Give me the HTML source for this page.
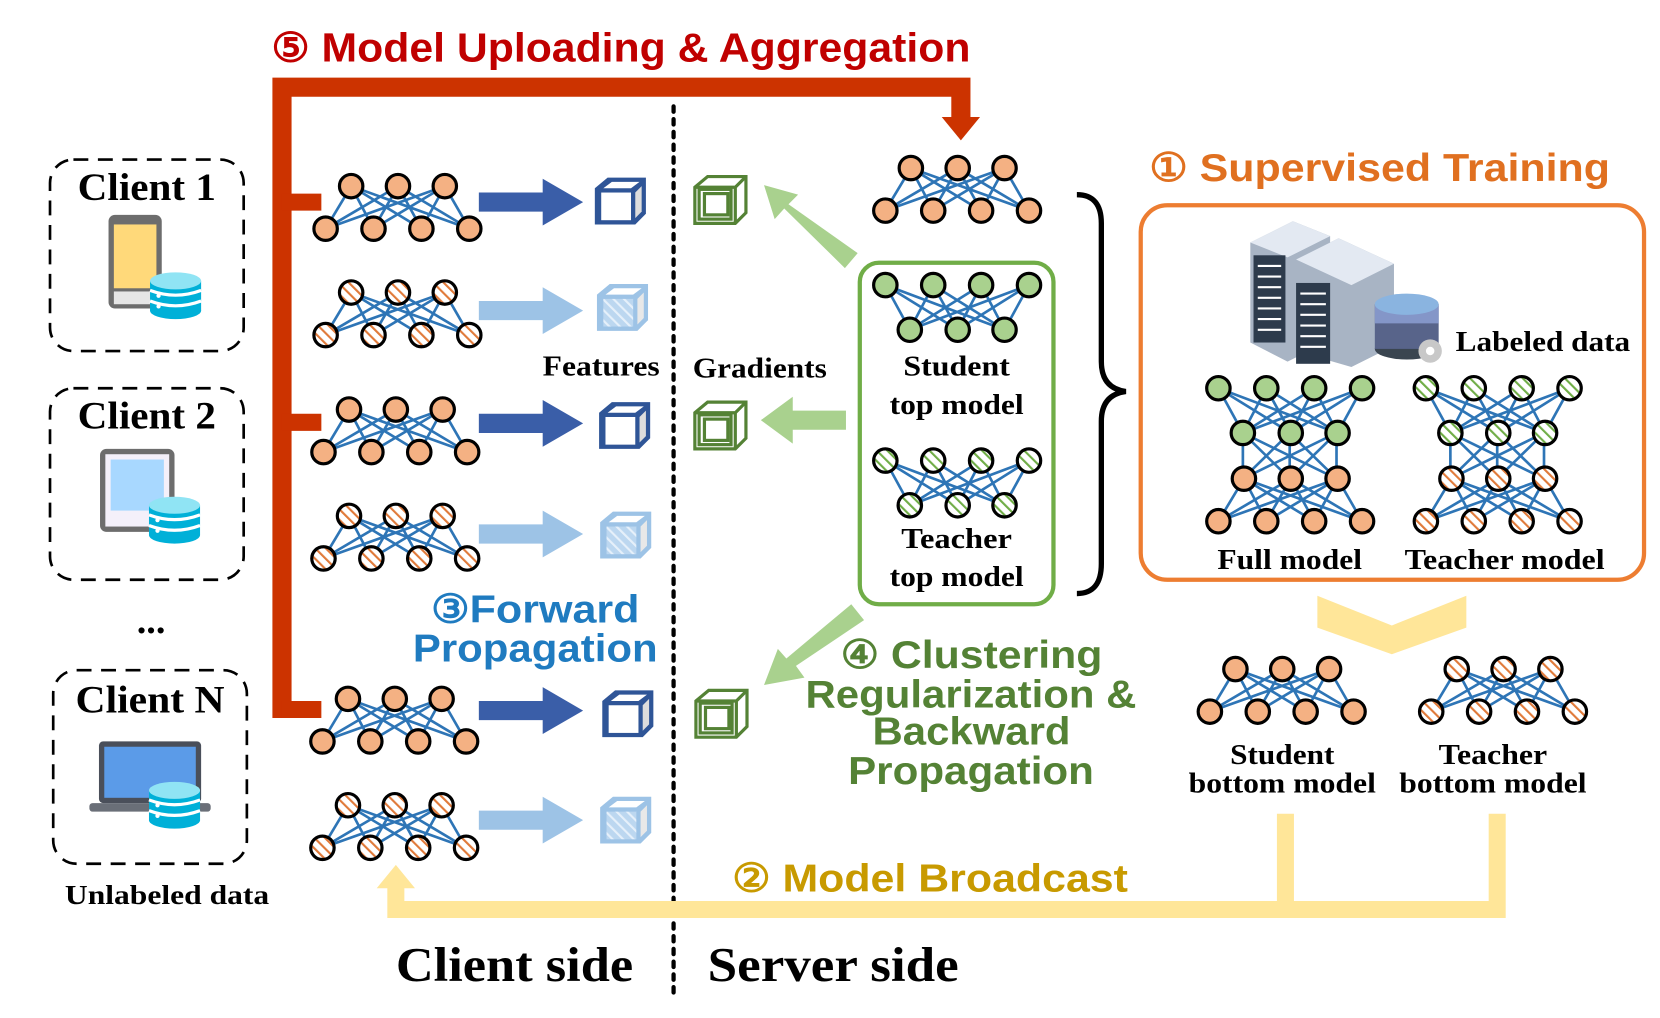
<!DOCTYPE html>
<html><head><meta charset="utf-8"><style>
html,body{margin:0;padding:0;background:#fff;width:1660px;height:1018px;overflow:hidden}
svg{display:block}
.sf{font-family:"Liberation Serif",serif;font-weight:bold;fill:#000}
.ss{font-family:"Liberation Sans",sans-serif;font-weight:bold}
</style></head><body>
<svg width="1660" height="1018" viewBox="0 0 1560 957" preserveAspectRatio="none" xmlns="http://www.w3.org/2000/svg">
<defs>
<pattern id="hO" width="7" height="7" patternUnits="userSpaceOnUse" patternTransform="rotate(-45)"><rect width="7" height="7" fill="#fff"/><rect width="2" height="7" fill="#e07a3a"/></pattern>
<pattern id="hG" width="7" height="7" patternUnits="userSpaceOnUse" patternTransform="rotate(-45)"><rect width="7" height="7" fill="#fff"/><rect width="2" height="7" fill="#70ad47"/></pattern>
<pattern id="hB" width="7" height="7" patternUnits="userSpaceOnUse" patternTransform="rotate(-45)"><rect width="7" height="7" fill="#bcd7f0"/><rect width="2" height="7" fill="#e6f0fa"/></pattern>
<g id="A" stroke="#2e75b6" stroke-width="2.5">
<path d="M24 0L0 40M24 0L45 40M24 0L90 40M24 0L135 40M68 0L0 40M68 0L45 40M68 0L90 40M68 0L135 40M112 0L0 40M112 0L45 40M112 0L90 40M112 0L135 40" fill="none"/>
<g stroke="#000" stroke-width="3"><circle cx="24" cy="0" r="11"/><circle cx="68" cy="0" r="11"/><circle cx="112" cy="0" r="11"/><circle cx="0" cy="40" r="11"/><circle cx="45" cy="40" r="11"/><circle cx="90" cy="40" r="11"/><circle cx="135" cy="40" r="11"/></g></g>
<g id="B" stroke="#2e75b6" stroke-width="2.5">
<path d="M0 0L23 42M0 0L68 42M0 0L112 42M45 0L23 42M45 0L68 42M45 0L112 42M90 0L23 42M90 0L68 42M90 0L112 42M135 0L23 42M135 0L68 42M135 0L112 42" fill="none"/>
<g stroke="#000" stroke-width="3"><circle cx="0" cy="0" r="11"/><circle cx="45" cy="0" r="11"/><circle cx="90" cy="0" r="11"/><circle cx="135" cy="0" r="11"/><circle cx="23" cy="42" r="11"/><circle cx="68" cy="42" r="11"/><circle cx="112" cy="42" r="11"/></g></g>
<path id="M" d="M0 0L0 43M0 0L44 43M0 0L88 43M44 0L0 43M44 0L44 43M44 0L88 43M88 0L0 43M88 0L44 43M88 0L88 43" stroke="#2e75b6" stroke-width="2.5" fill="none"/>
<g id="cubeD"><path d="M4 14L16 4H52V38L42 48H4Z" fill="#2f5597"/><rect x="10" y="18" width="28" height="26" fill="#fff"/><path d="M12 14L20 8H46L38 14Z" fill="#fff"/><path d="M42 18L48 12V36L42 42Z" fill="#ddd"/></g>
<g id="cubeL"><path d="M4 14L16 4H52V38L42 48H4Z" fill="#9dc3e6"/><rect x="10" y="18" width="28" height="26" fill="url(#hB)"/><path d="M12 14L20 8H46L38 14Z" fill="#fff"/><path d="M42 18L48 12V36L42 42Z" fill="#e8e8e8"/></g>
<g id="cubeG" fill="none" stroke="#548235" stroke-width="3"><path d="M4 14L16 4H52V38L42 48H4Z" fill="#fff"/><rect x="8" y="16" width="30" height="28"/><rect x="13" y="20" width="22" height="20"/><path d="M4 14H42V48M42 14L52 4"/></g>
<g id="db"><ellipse cx="0" cy="36" rx="24" ry="8" fill="#00b0d8"/><rect x="-24" y="8" width="48" height="28" fill="#00b0d8"/><path d="M-24 17Q0 26 24 17M-24 27Q0 36 24 27" stroke="#fff" stroke-width="3" fill="none"/><ellipse cx="0" cy="8" rx="24" ry="8" fill="#90e4f4"/><circle cx="-16" cy="22" r="2" fill="#fff"/><circle cx="-16" cy="32" r="2" fill="#fff"/></g>
</defs>

<text x="255" y="58" class="ss" font-size="38" fill="#c00000" textLength="657" lengthAdjust="spacingAndGlyphs">⑤ Model Uploading &amp; Aggregation</text>
<path d="M265 675V82H903V112" stroke="#cc3300" stroke-width="18" fill="none"/>
<path d="M885 110H921L903 132Z" fill="#cc3300"/>
<path d="M265 190H302M265 397H302M265 667H302" stroke="#cc3300" stroke-width="16"/>

<g fill="none" stroke="#000" stroke-width="2.5" stroke-dasharray="14,9">
<rect x="47" y="150" width="182" height="180" rx="22"/>
<rect x="47" y="365" width="182" height="180" rx="22"/>
<rect x="50" y="630" width="182" height="182" rx="22"/>
</g>
<text x="138" y="188" class="sf" font-size="37" text-anchor="middle" textLength="130" lengthAdjust="spacingAndGlyphs">Client 1</text>
<text x="138" y="403" class="sf" font-size="37" text-anchor="middle" textLength="130" lengthAdjust="spacingAndGlyphs">Client 2</text>
<text x="141" y="670" class="sf" font-size="37" text-anchor="middle" textLength="140" lengthAdjust="spacingAndGlyphs">Client N</text>
<text x="142" y="595" class="sf" font-size="36" text-anchor="middle">...</text>
<text x="157" y="850" class="sf" font-size="26" text-anchor="middle" textLength="192" lengthAdjust="spacingAndGlyphs">Unlabeled data</text>
<rect x="102" y="202" width="50" height="88" rx="6" fill="#6d6d6d"/><rect x="107" y="211" width="40" height="60" fill="#ffd97a"/><rect x="107" y="274" width="40" height="12" fill="#e6e6e6"/>
<use href="#db" x="165" y="256"/>
<rect x="94" y="422" width="70" height="78" rx="6" fill="#6d6d6d"/><rect x="99" y="427" width="60" height="68" fill="#f4f0fa"/><rect x="104" y="432" width="50" height="48" fill="#a8d8ff"/>
<use href="#db" x="164" y="467"/>
<rect x="93" y="697" width="96" height="58" rx="4" fill="#4a4f5a"/><rect x="98" y="702" width="86" height="48" fill="#5b9be8"/><rect x="84" y="755" width="114" height="8" rx="3" fill="#6a6f78"/>
<use href="#db" x="164" y="735"/>

<use href="#A" x="306" y="175" fill="#f4b183"/>
<use href="#A" x="306" y="275" fill="url(#hO)"/>
<use href="#A" x="304" y="385" fill="#f4b183"/>
<use href="#A" x="304" y="485" fill="url(#hO)"/>
<use href="#A" x="303" y="657" fill="#f4b183"/>
<use href="#A" x="303" y="757" fill="url(#hO)"/>

<g fill="#3a5ea8"><path d="M450 181H510V168L548 190L510 212V199H450Z"/><path d="M450 389H510V376L548 398L510 420V407H450Z"/><path d="M450 659H510V646L548 668L510 690V677H450Z"/></g>
<g fill="#9dc3e6"><path d="M450 283H510V270L548 292L510 314V301H450Z"/><path d="M450 493H510V480L548 502L510 524V511H450Z"/><path d="M450 762H510V749L548 771L510 793V780H450Z"/></g>
<use href="#cubeD" x="555" y="163"/><use href="#cubeL" x="557" y="263"/>
<use href="#cubeD" x="559" y="374"/><use href="#cubeL" x="560" y="477"/>
<use href="#cubeD" x="562" y="645"/><use href="#cubeL" x="560" y="745"/>
<text x="565" y="353" class="sf" font-size="27" text-anchor="middle" textLength="110" lengthAdjust="spacingAndGlyphs">Features</text>
<text x="714" y="355" class="sf" font-size="27" text-anchor="middle" textLength="126" lengthAdjust="spacingAndGlyphs">Gradients</text>

<line x1="633" y1="100" x2="633" y2="935" stroke="#000" stroke-width="4" stroke-dasharray="5,7" stroke-linecap="round"/>

<use href="#cubeG" x="649" y="162"/><use href="#cubeG" x="649" y="374"/><use href="#cubeG" x="650" y="645"/>
<g fill="#a9d18e">
<path d="M806 238L794 252L737 196L728 206L718 174L750 183L741 192Z"/>
<path d="M795 386V404H745V417L715 395L745 373V386Z"/>
<path d="M800 568L812 583L748 626L756 637L718 644L731 610L739 619Z"/>
</g>

<use href="#A" x="832" y="158" fill="#f4b183"/>
<rect x="808" y="247" width="182" height="321" rx="18" fill="none" stroke="#70ad47" stroke-width="4"/>
<use href="#B" x="832" y="268" fill="#a9d18e"/>
<text x="899" y="353" class="sf" font-size="27" text-anchor="middle" textLength="100" lengthAdjust="spacingAndGlyphs">Student</text>
<text x="899" y="389" class="sf" font-size="27" text-anchor="middle" textLength="126" lengthAdjust="spacingAndGlyphs">top model</text>
<use href="#B" x="832" y="433" fill="url(#hG)"/>
<text x="899" y="515" class="sf" font-size="27" text-anchor="middle" textLength="104" lengthAdjust="spacingAndGlyphs">Teacher</text>
<text x="899" y="551" class="sf" font-size="27" text-anchor="middle" textLength="126" lengthAdjust="spacingAndGlyphs">top model</text>
<path d="M1012 183Q1035 183 1035 210V340Q1035 365 1058 368Q1035 371 1035 396V530Q1035 558 1012 558" fill="none" stroke="#000" stroke-width="5"/>

<text x="1080" y="170" class="ss" font-size="37" fill="#e07020" textLength="433" lengthAdjust="spacingAndGlyphs">① Supervised Training</text>
<rect x="1072" y="193" width="473" height="352" rx="25" fill="none" stroke="#ed7d31" stroke-width="4"/>
<path d="M1175 228L1215 208L1250 222L1250 320L1210 340L1175 322Z" fill="#a8b4c4"/>
<path d="M1175 228L1215 208L1250 222L1210 242Z" fill="#e3e9f2"/>
<rect x="1178" y="240" width="30" height="82" fill="#2d3b4c"/>
<path d="M1218 244L1258 224L1310 248L1310 325L1270 345L1218 330Z" fill="#a8b4c4"/>
<path d="M1218 244L1258 224L1310 248L1270 268Z" fill="#e3e9f2"/>
<rect x="1218" y="266" width="32" height="76" fill="#2d3b4c"/>
<g stroke="#fff" stroke-width="2"><path d="M1182 250H1204M1182 260H1204M1182 270H1204M1182 280H1204M1182 290H1204M1182 300H1204M1182 310H1204M1222 276H1246M1222 286H1246M1222 296H1246M1222 306H1246M1222 316H1246M1222 326H1246"/></g>
<ellipse cx="1322" cy="328" rx="30" ry="10" fill="#3a4550"/><rect x="1292" y="286" width="60" height="42" fill="#58648a"/><rect x="1292" y="286" width="60" height="18" fill="#8496c8"/><ellipse cx="1322" cy="286" rx="30" ry="10" fill="#8ab4e0"/>
<circle cx="1344" cy="330" r="11" fill="#c8c8c8"/><circle cx="1344" cy="330" r="4" fill="#fff"/>
<text x="1368" y="330" class="sf" font-size="27" textLength="164" lengthAdjust="spacingAndGlyphs">Labeled data</text>
<use href="#M" x="1168" y="407"/>
<use href="#B" x="1145" y="365" fill="#a9d18e"/>
<use href="#A" x="1145" y="450" fill="#f4b183"/>
<use href="#M" x="1363" y="407"/>
<use href="#B" x="1340" y="365" fill="url(#hG)"/>
<use href="#A" x="1340" y="450" fill="url(#hO)"/>
<text x="1212" y="535" class="sf" font-size="27" text-anchor="middle" textLength="136" lengthAdjust="spacingAndGlyphs">Full model</text>
<text x="1414" y="535" class="sf" font-size="27" text-anchor="middle" textLength="188" lengthAdjust="spacingAndGlyphs">Teacher model</text>
<path d="M1238 560L1308 588L1378 560V590L1308 615L1238 590Z" fill="#ffe699"/>
<use href="#A" x="1137" y="629" fill="#f4b183"/>
<use href="#A" x="1345" y="629" fill="url(#hO)"/>
<text x="1205" y="718" class="sf" font-size="27" text-anchor="middle" textLength="98" lengthAdjust="spacingAndGlyphs">Student</text>
<text x="1205" y="745" class="sf" font-size="27" text-anchor="middle" textLength="176" lengthAdjust="spacingAndGlyphs">bottom model</text>
<text x="1403" y="718" class="sf" font-size="27" text-anchor="middle" textLength="102" lengthAdjust="spacingAndGlyphs">Teacher</text>
<text x="1403" y="745" class="sf" font-size="27" text-anchor="middle" textLength="176" lengthAdjust="spacingAndGlyphs">bottom model</text>

<path d="M1208 765V855M1407 765V855H372V832" stroke="#ffe699" stroke-width="16" fill="none"/>
<path d="M354 835L372 813L390 835Z" fill="#ffe699"/>
<text x="688" y="838" class="ss" font-size="37" fill="#c89a00" textLength="372" lengthAdjust="spacingAndGlyphs">② Model Broadcast</text>

<text x="405" y="585" class="ss" font-size="37" fill="#1f7bc0" textLength="196" lengthAdjust="spacingAndGlyphs">③Forward</text>
<text x="388" y="622" class="ss" font-size="37" fill="#1f7bc0" textLength="230" lengthAdjust="spacingAndGlyphs">Propagation</text>
<g class="ss" font-size="37" fill="#548235">
<text x="790" y="628" textLength="246" lengthAdjust="spacingAndGlyphs">④ Clustering</text>
<text x="757" y="665" textLength="311" lengthAdjust="spacingAndGlyphs">Regularization &amp;</text>
<text x="820" y="700" textLength="186" lengthAdjust="spacingAndGlyphs">Backward</text>
<text x="797" y="737" textLength="231" lengthAdjust="spacingAndGlyphs">Propagation</text>
</g>
<text x="372" y="922" class="sf" font-size="46" textLength="223" lengthAdjust="spacingAndGlyphs">Client side</text>
<text x="665" y="922" class="sf" font-size="46" textLength="236" lengthAdjust="spacingAndGlyphs">Server side</text>
</svg>
</body></html>
